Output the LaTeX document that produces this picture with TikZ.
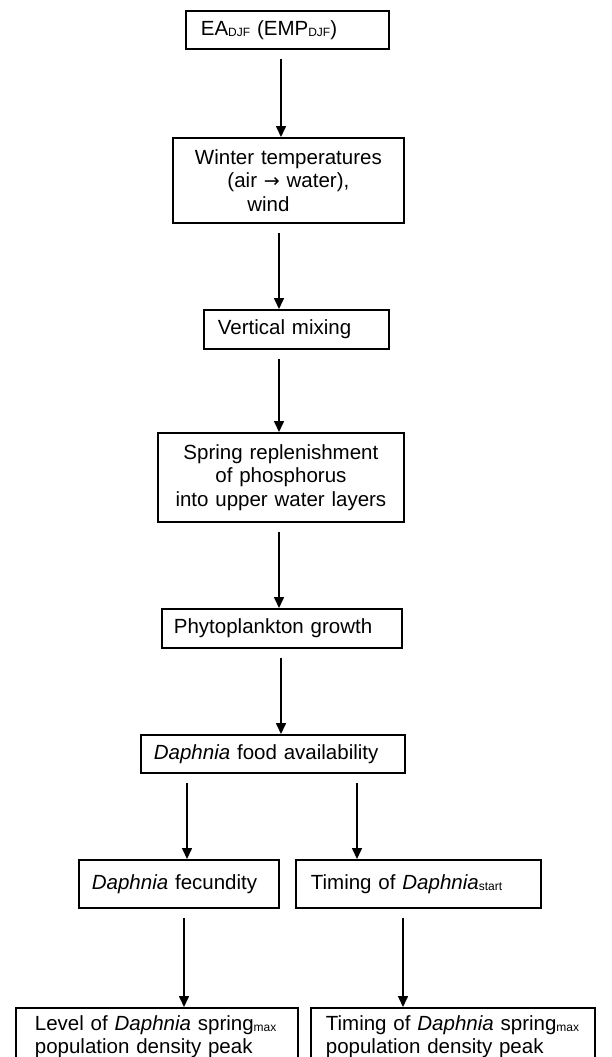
\documentclass[tikz,border=0pt]{standalone}
\usepackage{fontspec}
\setmainfont{Liberation Sans}
\newfontfamily\djv{DejaVu Sans}
\usetikzlibrary{arrows.meta}
\newcommand{\sbs}[1]{\raisebox{-1.5pt}{\fontsize{12}{12}\selectfont #1}}
\begin{document}
\begin{tikzpicture}[x=1pt,y=-1pt,
  box/.style={draw, line width=1.8pt, anchor=north west, inner ysep=0pt,
    font=\fontsize{20.5}{23.5}\selectfont},
  arr/.style={line width=1.6pt, -{Triangle[width=10pt,length=11pt]}, shorten <=9pt}]
\useasboundingbox (0,0) rectangle (611,1057);
\clip (0,0) rectangle (611,1057);
\node[box, minimum width=203pt, minimum height=38pt, inner xsep=15pt, text width=173pt, align=left]
  (b1) at (185,10) {EA\sbs{DJF} (EMP\sbs{DJF})};
\node[box, minimum width=231pt, minimum height=85pt, inner xsep=10pt, text width=211pt, align=center]
  (b2) at (172,137) {Winter temperatures\\(air {\djv\fontsize{19}{19}\selectfont →} water),\\wind\rule{40pt}{0pt}};
\node[box, minimum width=185pt, minimum height=39pt, inner xsep=14pt, text width=157pt, align=left]
  (b3) at (203,309) {Vertical mixing};
\node[box, minimum width=246pt, minimum height=89pt, inner xsep=10pt, text width=226pt, align=center]
  (b4) at (157,432) {Spring replenishment\\of phosphorus\\into upper water layers};
\node[box, minimum width=240pt, minimum height=39pt, inner xsep=12pt, text width=216pt, align=left]
  (b5) at (161,608) {Phytoplankton growth};
\node[box, minimum width=264pt, minimum height=38pt, inner xsep=13pt, text width=238pt, align=left]
  (b6) at (140,734) {\textit{Daphnia} food availability};
\node[box, minimum width=200pt, minimum height=48pt, inner xsep=13pt, text width=174pt, align=left]
  (b7a) at (78,859) {\textit{Daphnia} fecundity};
\node[box, minimum width=245pt, minimum height=48pt, inner xsep=15pt, text width=215pt, align=left]
  (b7b) at (295,859) {Timing of \textit{Daphnia}\sbs{start}};
\node[box, minimum width=282pt, minimum height=58pt, inner xsep=19pt, text width=244pt, align=left]
  (b8a) at (15,1007) {\mbox{Level of \textit{Daphnia} spring\sbs{max}}\\\mbox{population density peak}};
\node[box, minimum width=284pt, minimum height=58pt, inner xsep=15pt, text width=254pt, align=left]
  (b8b) at (310,1007) {\mbox{Timing of \textit{Daphnia} spring\sbs{max}}\\\mbox{population density peak}};
\coordinate (c1) at (281,0);
\coordinate (c2) at (279,0);
\coordinate (c5) at (281,0);
\coordinate (c6l) at (187,0);
\coordinate (c6r) at (357,0);
\coordinate (c7l) at (184,0);
\coordinate (c7r) at (403,0);
\draw[arr] (b1.south -| c1) -- (b2.north -| c1);
\draw[arr] (b2.south -| c2) -- (b3.north -| c2);
\draw[arr] (b3.south -| c2) -- (b4.north -| c2);
\draw[arr] (b4.south -| c2) -- (b5.north -| c2);
\draw[arr] (b5.south -| c5) -- (b6.north -| c5);
\draw[arr] (b6.south -| c6l) -- (b7a.north -| c6l);
\draw[arr] (b6.south -| c6r) -- (b7b.north -| c6r);
\draw[arr] (b7a.south -| c7l) -- (b8a.north -| c7l);
\draw[arr] (b7b.south -| c7r) -- (b8b.north -| c7r);
\end{tikzpicture}
\end{document}
